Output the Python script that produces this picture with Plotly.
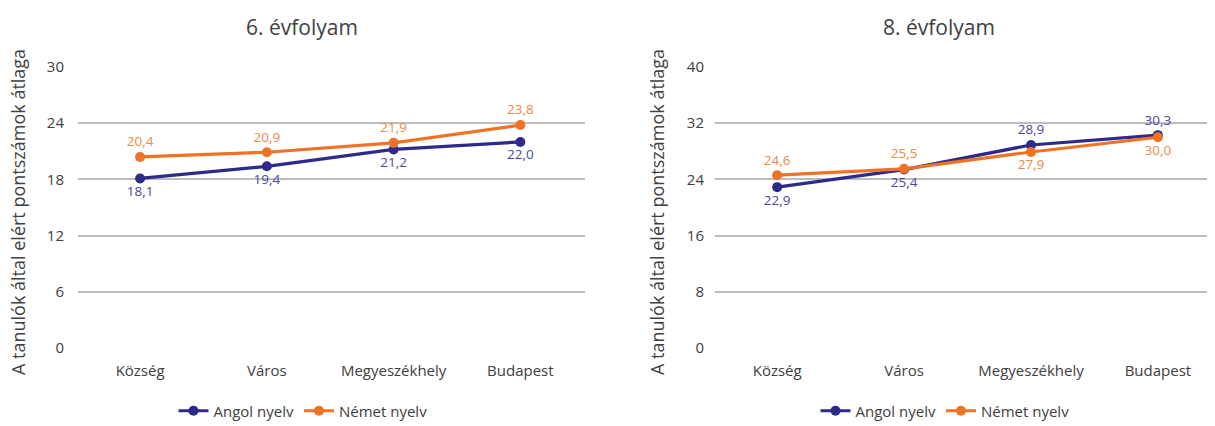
import plotly.graph_objects as go

categories = ["Község", "Város", "Megyeszékhely", "Budapest"]
angol_6 = [18.1, 19.4, 21.2, 22.0]
nemet_6 = [20.4, 20.9, 21.9, 23.8]
angol_8 = [22.9, 25.4, 28.9, 30.3]
nemet_8 = [24.6, 25.5, 27.9, 30.0]

ticks_6 = [0, 6, 12, 18, 24, 30]
ticks_8 = [0, 8, 16, 24, 32, 40]

pos_angol_6 = ["bottom center"] * 4
pos_nemet_6 = ["top center"] * 4
pos_angol_8 = ["bottom center", "bottom center", "top center", "top center"]
pos_nemet_8 = ["top center", "top center", "bottom center", "bottom center"]

NAVY = "#2E2A8A"
NAVY_TXT = "#4A469E"
ORANGE = "#EE7326"
ORANGE_TXT = "#EE8A45"
TXT = "#404040"
FONT = "Open Sans"

def fmt(vals):
    return [f"{v:.1f}".replace(".", ",") for v in vals]

fig = go.Figure()

def add(vals, name, color, tcolor, pos, xa, ya, legend):
    fig.add_trace(go.Scatter(
        x=categories, y=vals, name=name, mode="lines+markers+text",
        line=dict(color=color, width=3.2), marker=dict(size=10, color=color),
        text=fmt(vals), textposition=pos,
        textfont=dict(family=FONT, size=13.5, color=tcolor),
        xaxis=xa, yaxis=ya, legend=legend, cliponaxis=False,
    ))

add(angol_6, "Angol nyelv", NAVY, NAVY_TXT, pos_angol_6, "x", "y", "legend")
add(nemet_6, "Német nyelv", ORANGE, ORANGE_TXT, pos_nemet_6, "x", "y", "legend")
add(angol_8, "Angol nyelv", NAVY, NAVY_TXT, pos_angol_8, "x2", "y2", "legend2")
add(nemet_8, "Német nyelv", ORANGE, ORANGE_TXT, pos_nemet_8, "x2", "y2", "legend2")

# page body has an 8px margin; work in figure pixels = reference pixels - 8
OFF = 8
W, H = 1215 - OFF, 426 - OFF

def px(x):
    return (x - OFF) / W

def py(y):
    return 1 - (y - OFF) / H

ydom = [py(348), py(67)]

xcommon = dict(showgrid=False, showline=False, zeroline=False, ticks="",
               tickfont=dict(family=FONT, size=15, color=TXT),
               ticklabelstandoff=12, fixedrange=True, automargin=False)
ycommon = dict(showgrid=True, gridcolor="#BDBDBD", gridwidth=1.6, zeroline=False,
               showline=False, ticks="", automargin=False,
               tickfont=dict(family=FONT, size=15, color=TXT))

legend_common = dict(orientation="h", y=py(411), yanchor="middle",
                     font=dict(family=FONT, size=15, color=TXT),
                     itemwidth=30, tracegroupgap=0, bgcolor="rgba(0,0,0,0)")

ytitle = "A tanulók által elért pontszámok átlaga"

fig.update_layout(
    width=W, height=H,
    margin=dict(l=0, r=0, t=0, b=0, autoexpand=False),
    paper_bgcolor="white", plot_bgcolor="white",
    showlegend=True,
    xaxis=dict(domain=[px(78), px(585)], anchor="y", range=[-0.49, 3.51], **xcommon),
    yaxis=dict(domain=ydom, anchor="x", range=[0, 30], tickvals=ticks_6,
               ticklabelstandoff=13, **ycommon),
    xaxis2=dict(domain=[px(715), 1.0], anchor="y2", range=[-0.49, 3.45], **xcommon),
    yaxis2=dict(domain=ydom, anchor="x2", range=[0, 40], tickvals=ticks_8,
                ticklabelstandoff=10, **ycommon),
    legend=dict(x=px(303), xanchor="center", **legend_common),
    legend2=dict(x=px(945), xanchor="center", **legend_common),
    annotations=[
        dict(text="6. évfolyam", x=px(302), y=py(27), xref="paper", yref="paper",
             showarrow=False, xanchor="center", yanchor="middle",
             font=dict(family=FONT, size=21, color=TXT)),
        dict(text="8. évfolyam", x=px(939), y=py(27), xref="paper", yref="paper",
             showarrow=False, xanchor="center", yanchor="middle",
             font=dict(family=FONT, size=21, color=TXT)),
        dict(text=ytitle, x=px(18), y=py(212), xref="paper", yref="paper",
             showarrow=False, xanchor="center", yanchor="middle", textangle=-90,
             font=dict(family=FONT, size=18, color=TXT)),
        dict(text=ytitle, x=px(657), y=py(212), xref="paper", yref="paper",
             showarrow=False, xanchor="center", yanchor="middle", textangle=-90,
             font=dict(family=FONT, size=18, color=TXT)),
    ],
)

fig.write_html("out.html")
